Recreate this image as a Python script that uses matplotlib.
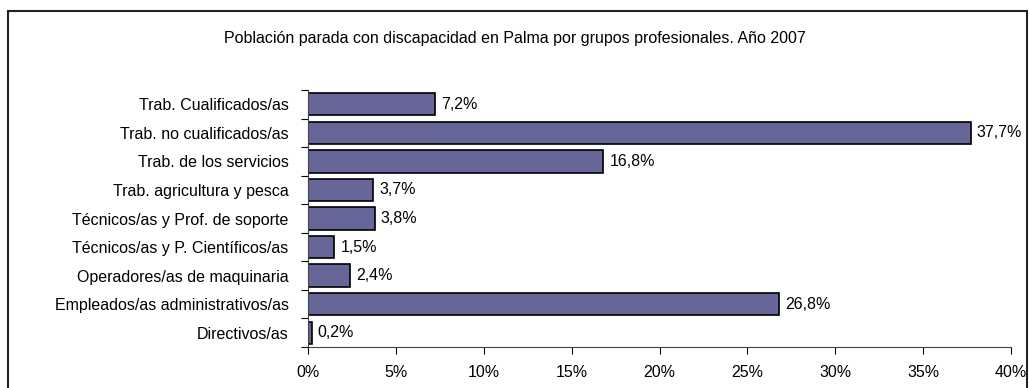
import matplotlib.pyplot as plt
from matplotlib.patches import Rectangle

plt.rcParams['font.family'] = ['Liberation Sans', 'DejaVu Sans']

# grupos profesionales, de arriba a abajo
grupos = ['Trab. Cualificados/as', 'Trab. no cualificados/as', 'Trab. de los servicios',
          'Trab. agricultura y pesca', 'Técnicos/as y Prof. de soporte',
          'Técnicos/as y P. Científicos/as', 'Operadores/as de maquinaria',
          'Empleados/as administrativos/as', 'Directivos/as']
porcentajes = [7.2, 37.7, 16.8, 3.7, 3.8, 1.5, 2.4, 26.8, 0.2]
xticks = [0, 5, 10, 15, 20, 25, 30, 35, 40]

fs = 11.5

fig = plt.figure(figsize=(10.29, 3.88), dpi=100)
ax = fig.add_axes([308/1029, 1 - 347/388, 703/1029, 257/388])

pos = list(range(len(grupos)))
ax.barh(pos, porcentajes, height=0.78, color='#666699', edgecolor='black', linewidth=1.2)
for p, v in zip(pos, porcentajes):
    ax.text(v + 0.35, p, ('%.1f%%' % v).replace('.', ','), va='center', ha='left', fontsize=fs)

ax.set_ylim(len(grupos) - 0.5, -0.5)
ax.set_xlim(0, 40)
ax.set_yticks(pos)
ax.set_yticklabels(grupos, fontsize=fs)
ax.tick_params(axis='y', which='major', length=0, pad=14)
ax.set_yticks([p - 0.5 for p in pos] + [len(grupos) - 0.5], minor=True)
ax.tick_params(axis='y', which='minor', length=5, direction='out', width=0.8)
ax.set_xticks(xticks)
ax.set_xticklabels(['%d%%' % t for t in xticks], fontsize=fs)
ax.tick_params(axis='x', length=5, width=0.8, pad=8)

for s in ['top', 'right']:
    ax.spines[s].set_visible(False)
for s in ['left', 'bottom']:
    ax.spines[s].set_linewidth(0.8)
    ax.spines[s].set_color('#444444')

fig.text(0.5, 1 - 38/388, 'Población parada con discapacidad en Palma por grupos profesionales. Año 2007',
         ha='center', va='center', fontsize=fs)

# marco exterior
fig.patches.append(Rectangle((7.5/1029, -0.1), 1019/1029, 1.1 - 11.5/388, transform=fig.transFigure,
                             fill=False, edgecolor='#222222', linewidth=1.5))

fig.savefig('out.png', dpi=100)
